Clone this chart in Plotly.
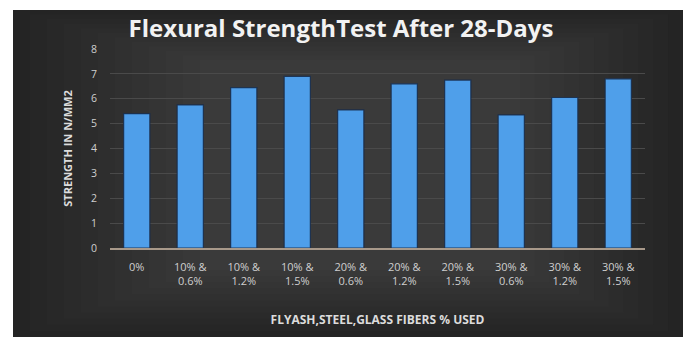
import plotly.graph_objects as go

categories = ["0%", "10% &<br>0.6%", "10% &<br>1.2%", "10% &<br>1.5%", "20% &<br>0.6%",
              "20% &<br>1.2%", "20% &<br>1.5%", "30% &<br>0.6%", "30% &<br>1.2%", "30% &<br>1.5%"]
strength = [5.4, 5.75, 6.45, 6.9, 5.55, 6.6, 6.75, 5.35, 6.05, 6.8]
y_ticks = [0, 1, 2, 3, 4, 5, 6, 7, 8]

W, H = 693, 340
L, R, T, B = 110, 48, 49, 92
pw, ph = W - L - R, H - T - B

def px2paper(x, y):
    return (x - L) / pw, (H - B - y) / ph

fig = go.Figure()
fig.add_trace(go.Bar(
    x=categories, y=strength,
    marker=dict(color="#4f9fea", line=dict(color="rgba(25,45,75,0.9)", width=1.2)),
    width=0.49,
))

shapes = []
# dark background with a soft vignette (nested rects, small steps)
outer = (13, 10, 683, 337)
inner = (200, 60, 520, 270)
n = 12
for i in range(n):
    t = i / (n - 1)
    x0 = outer[0] + (inner[0] - outer[0]) * t
    y0 = outer[1] + (inner[1] - outer[1]) * t
    x1 = outer[2] + (inner[2] - outer[2]) * t
    y1 = outer[3] + (inner[3] - outer[3]) * t
    v = int(0x24 + (0x3a - 0x24) * t)
    c = "#%02x%02x%02x" % (v, v, v)
    a0, b0 = px2paper(x0, y1)
    a1, b1 = px2paper(x1, y0)
    shapes.append(dict(type="rect", xref="paper", yref="paper", x0=a0, y0=b0, x1=a1, y1=b1,
                       fillcolor=c, line=dict(width=0), layer="below"))

fig.update_layout(
    width=W, height=H,
    margin=dict(l=L, r=R, t=T, b=B),
    paper_bgcolor="white",
    plot_bgcolor="rgba(0,0,0,0)",
    shapes=shapes,
    showlegend=False,
    font=dict(family="Open Sans", color="#c8c8c8"),
    title=dict(text="<b>Flexural StrengthTest After 28-Days</b>",
               x=341 / W, xanchor="center", xref="container", y=1 - 29 / H, yanchor="middle",
               font=dict(family="Open Sans", size=24, color="#f2f2f2")),
    xaxis=dict(
        tickfont=dict(size=11, color="#cfcfcf"),
        showline=True, linecolor="#a8998a", linewidth=1.5,
        ticks="", showgrid=False, ticklabelstandoff=8,
        title=dict(text="<b>FLYASH,STEEL,GLASS FIBERS % USED</b>",
                   font=dict(size=12, color="#dcdcdc"), standoff=28),
    ),
    yaxis=dict(
        range=[0, 8], tickvals=y_ticks,
        tickfont=dict(size=10.5, color="#cfcfcf"),
        showgrid=True, gridcolor="#4a4a4a", gridwidth=1,
        zeroline=False, ticks="", ticklabelstandoff=12,
        title=dict(text="<b>STRENGTH IN N/MM2</b>",
                   font=dict(size=11, color="#dcdcdc"), standoff=16),
    ),
)

fig.write_html("out.html")
